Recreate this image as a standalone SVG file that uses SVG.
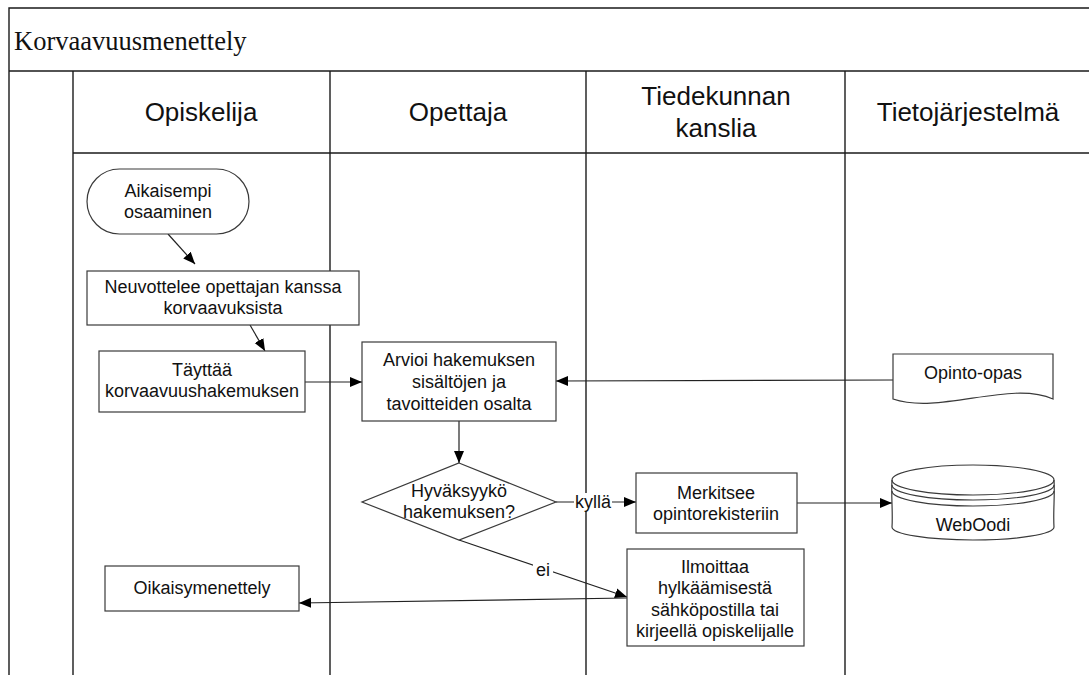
<svg xmlns="http://www.w3.org/2000/svg" width="1089" height="675" viewBox="0 0 1089 675">
  <style>
    .frame { stroke: #1a1a1a; stroke-width: 1.4; fill: none; }
    .node { fill: #ffffff; stroke: #3a3a3a; stroke-width: 1.2; }
    .rim { fill: none; stroke: #3a3a3a; stroke-width: 1.2; }
    .edge { fill: none; stroke: #222222; stroke-width: 1.2; }
    .t { font-family: "Liberation Sans", Arial, sans-serif; font-size: 18px; fill: #111; text-anchor: middle; }
    .lane { font-family: "Liberation Sans", Arial, sans-serif; font-size: 26px; fill: #111; text-anchor: middle; }
    .title { font-family: "Liberation Serif", "Times New Roman", serif; font-size: 26.5px; fill: #111; }
    .lbl { fill: #ffffff; }
  </style>
  <defs>
    <marker id="arrow" markerUnits="userSpaceOnUse" markerWidth="13" markerHeight="11" refX="12" refY="5" orient="auto">
      <path d="M0,0 L12,5 L0,10 Z" fill="#000"/>
    </marker>
  </defs>

  <rect width="1089" height="675" fill="#ffffff"/>

  <!-- pool frame, title bar and swimlanes -->
  <g id="pool">
    <path class="frame" d="M9,675 V8 H1089"/>
    <path class="frame" d="M9,71 H1089"/>
    <path class="frame" d="M73,71 V675"/>
    <path class="frame" d="M73,153 H1089"/>
    <path class="frame" d="M330,71 V675"/>
    <path class="frame" d="M586,71 V675"/>
    <path class="frame" d="M845,71 V675"/>
    <text class="title" x="14" y="50">Korvaavuusmenettely</text>
    <text class="lane" x="201" y="121">Opiskelija</text>
    <text class="lane" x="458" y="121">Opettaja</text>
    <text class="lane" x="716" y="105">Tiedekunnan</text>
    <text class="lane" x="716" y="137">kanslia</text>
    <text class="lane" x="968" y="121">Tietojärjestelmä</text>
  </g>

  <!-- connectors -->
  <g id="connectors">
    <path class="edge" d="M168,234 L195,264" marker-end="url(#arrow)"/>
    <path class="edge" d="M250,325 L265,351" marker-end="url(#arrow)"/>
    <path class="edge" d="M305,382 L362,382" marker-end="url(#arrow)"/>
    <path class="edge" d="M893,380 L556,381" marker-end="url(#arrow)"/>
    <path class="edge" d="M459,421 L459,463" marker-end="url(#arrow)"/>
    <path class="edge" d="M556,502 L636,502" marker-end="url(#arrow)"/>
    <path class="edge" d="M797,503 L892,503" marker-end="url(#arrow)"/>
    <path class="edge" d="M459,540 L627,597" marker-end="url(#arrow)"/>
    <path class="edge" d="M627,598 L299,603" marker-end="url(#arrow)"/>
    <rect class="lbl" x="574" y="493" width="38" height="18"/>
    <text class="t" x="593" y="508">kyllä</text>
    <rect class="lbl" x="533" y="562" width="20" height="17"/>
    <text class="t" x="543" y="576">ei</text>
  </g>

  <g id="aikaisempi-osaaminen">
    <rect class="node" x="87" y="169" width="162" height="65" rx="32.5" ry="32.5"/>
    <text class="t" x="168" y="197">Aikaisempi</text>
    <text class="t" x="168" y="218">osaaminen</text>
  </g>

  <g id="neuvottelee">
    <rect class="node" x="87" y="271" width="272" height="54"/>
    <text class="t" x="223" y="293">Neuvottelee opettajan kanssa</text>
    <text class="t" x="223" y="314">korvaavuksista</text>
  </g>

  <g id="tayttaa">
    <rect class="node" x="99" y="351" width="206" height="61"/>
    <text class="t" x="202" y="376">Täyttää</text>
    <text class="t" x="202" y="397">korvaavuushakemuksen</text>
  </g>

  <g id="arvioi">
    <rect class="node" x="362" y="342" width="194" height="79"/>
    <text class="t" x="459" y="366">Arvioi hakemuksen</text>
    <text class="t" x="459" y="388">sisältöjen ja</text>
    <text class="t" x="459" y="410">tavoitteiden osalta</text>
  </g>

  <g id="hyvaksyyko">
    <polygon class="node" points="459,463 556,502 459,540 362,502"/>
    <text class="t" x="459" y="497">Hyväksyykö</text>
    <text class="t" x="459" y="518">hakemuksen?</text>
  </g>

  <g id="merkitsee">
    <rect class="node" x="636" y="473" width="161" height="60"/>
    <text class="t" x="716" y="499">Merkitsee</text>
    <text class="t" x="716" y="520">opintorekisteriin</text>
  </g>

  <g id="ilmoittaa">
    <rect class="node" x="627" y="549" width="177" height="97"/>
    <text class="t" x="715" y="573">Ilmoittaa</text>
    <text class="t" x="715" y="594">hylkäämisestä</text>
    <text class="t" x="715" y="616">sähköpostilla tai</text>
    <text class="t" x="715" y="637">kirjeellä opiskelijalle</text>
  </g>

  <g id="oikaisymenettely">
    <rect class="node" x="105" y="566" width="194" height="45"/>
    <text class="t" x="202" y="594">Oikaisymenettely</text>
  </g>

  <g id="opinto-opas">
    <path class="node" d="M893,354 H1053 V399 C1010,380 940,415 893,399 Z"/>
    <text class="t" x="973" y="379">Opinto-opas</text>
  </g>

  <g id="weboodi">
    <!-- drum body with stacked rims -->
    <path class="node" d="M892,480 A81,15 0 0 1 1054,480 C1055,496 1053,512 1054,527 A81,13 0 0 1 892,527 C893,512 891,496 892,480 Z"/>
    <path class="rim" d="M892,480 A81,15 0 0 0 1054,480"/>
    <path class="rim" d="M892,485 A81,15 0 0 0 1054,485"/>
    <path class="rim" d="M892,491 A81,15 0 0 0 1054,491"/>
    <text class="t" x="973" y="531">WebOodi</text>
  </g>
</svg>
